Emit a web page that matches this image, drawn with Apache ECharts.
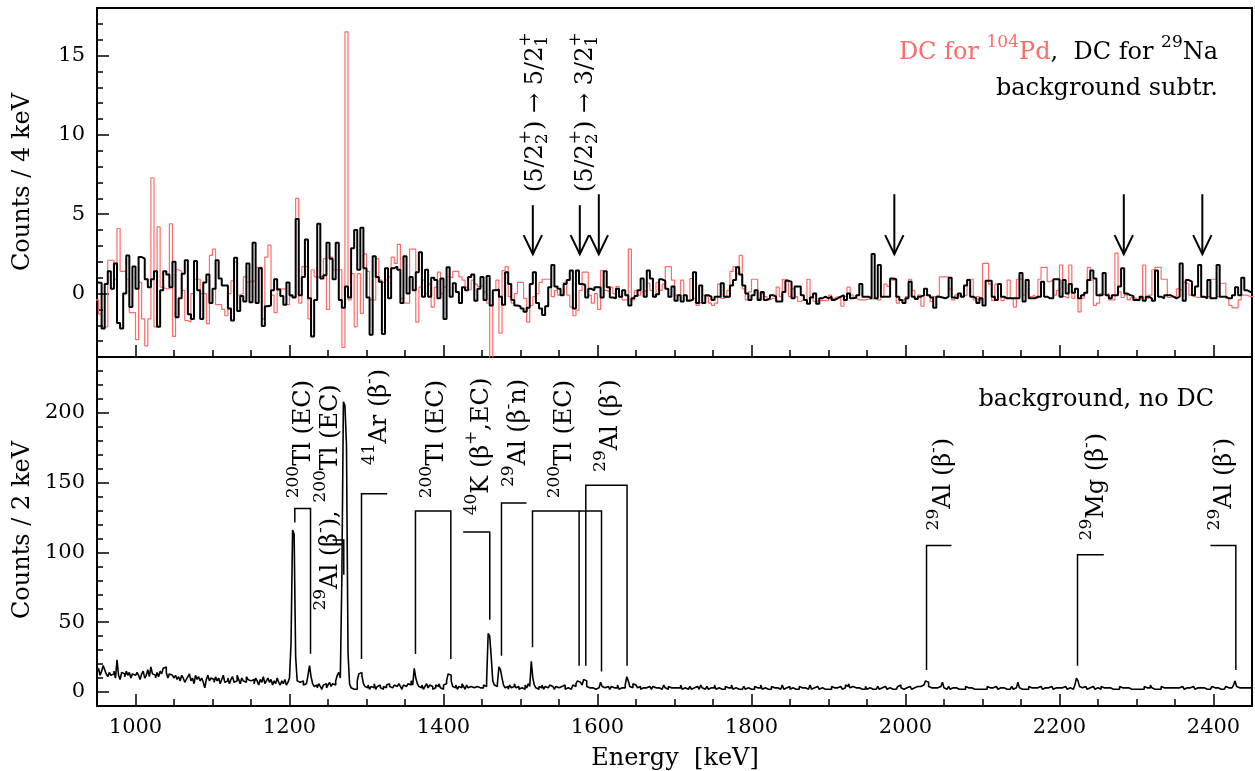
<!DOCTYPE html>
<html><head><meta charset="utf-8">
<script src="https://cdn.jsdelivr.net/npm/echarts@6/dist/echarts.min.js"></script>
<style>html,body{margin:0;padding:0;background:#fff;}#c{width:1255px;height:771px;}</style>
</head><body><div id="c"></div>
<script>
// ---------------- data ----------------
const energyMin = 950, energyMax = 2450;
const topBinStart = 948, topBinWidth = 4;   // DC spectra, 4 keV bins
const botBinStart = 950, botBinWidth = 2;   // background, 2 keV bins

// DC for 29Na, background subtracted (black)
const dc29Na = [0.7,
0.67,-2.2,0.6,1.4,0.3,1.9,-1.85,-2.2,0,2.4, -0.85,1.7,0.3,2.3,2.2,0.9,0.4,0.9,1.4,-2.1,
0.2,1.4,1.2,0.4,2.0,-1.5,-0.3,1.25,2.1,-1.3, -1.6,2.05,0.2,-1.6,0.7,1.2,-0.6,0.3,2.1,0.95,
0.5,0.5,-0.95,-1.7,2.25,-1.1,-0.15,-0.5,1.9,-0.55, 3.2,-0.6,1.6,-2.05,-0.8,-0.75,0.2,0.9,0.25,-0.15,
-0.7,0.7,
-0.1,-0.25,4.7,-0.1,1.05,3.4,-0.3,-2.7,-0.4,4.4, 0.95,1.15,3.2,2.2,0.9,3.2,-0.4,-0.9,0.45,-0.25,
2.85,4.0,1.5,4.15,1.6,-0.25,-2.6,2.35,1.05,0.75, -2.55,1.6,-0.3,1.6,1.7,1.5,-0.6,2.35,0,1.05,
0.2,1.35,2.6,-0.2,1.5,-0.2,1.0,0.85,-0.3,0.95, -1.6,1.65,-0.2,0.65,0.1,-0.6,0.4,0.2,1.05,1.2,
-0.45, 0.3,
1.05,-0.4,1.1,-0.75,0.2,0.25,-0.2,-0.7,1.35,0.6, -0.4,-0.75,-0.8,-0.95,-1.15,-0.9,0.6,1.35,-0.6,-0.95,
-1.35,-0.8,0.4,1.8,0.45,0.3,-0.1,0.6,0.85,1.45, -0.95,1.45,0.6,0.55,-0.25,0.3,0.2,0.4,0.4,-0.25,
1.4,0.4,-0.25,-0.3,0.3,-0.2,0.2,-0.1,-0.75,-0.3, -0.15,0.2,0.95,-0.2,1.45,0.95,-0.2,-0.05,0.9,0.8,
0.3,-0.2,0.45,
-0.45,-0.1,-0.5,-0.1,-0.45,-0.4,1.35,-0.6,0.5,-0.6, -0.1,-0.2,-0.4,-0.2,-0.2,0.65,-0.2,-0.2,0.5,0.85,
1.65,1.2,0.5,0,-0.4,-0.1,0.2,-0.4,0.1,-0.4, -0.3,-0.1,-0.2,-0.5,-0.5,0.1,0.8,0.75,-0.3,0.45,
0.45,-0.1,-0.4,-0.65,-0.25,0,-0.65,-0.3,-0.2,-0.3, -0.2,-0.4,-0.3,-0.2,-0.1,-0.4,0,-0.3,-0.25,-0.1,
0.6,-0.2,
-0.2,-0.3,2.5,-0.3,1.8,-0.2,-0.2,-0.2,0.95,0.9, -0.2,-0.4,-0.6,-0.3,0.75,-0.2,-0.35,-0.2,-0.1,0.3,
-0.1,-0.25,-0.9,-0.2,-0.25,-0.3,-0.2,1.0,-0.25,-0.3, 0,-0.2,0.5,0.85,-0.2,-0.3,-0.6,-0.3,-0.75,0.8,
0.8,-0.2,-0.4,0.6,-0.2,-0.3,-0.3,-0.3,-0.3,-0.3, 1.3,-0.5,0.85,-0.3,-0.3,-0.2,-0.2,0.75,-0.2,-0.3,
-0.3,0.9,
0.9,-0.2,0.85,0,0.6,0.05,0.3,-0.3,-0.1,0.05, 0.85,1.45,0.95,-0.1,-0.1,1.3,-0.1,-0.3,-0.1,-0.1,
0.45,1.6,0,-0.1,-0.15,-0.4,-0.4,-0.2,-0.45,-0.2, -0.3,-0.45,1.45,-0.2,-0.3,-0.1,-0.1,-0.2,-0.3,-0.2,
1.9,-0.45,0.85,0.75,-0.1,0.45,1.8,-0.2,-0.3,0.85, -0.3,-0.3,1.8,-0.2,-0.2,-0.3,-0.3,-0.1,0.4,-0.1,
1.0,0.2,0.1,0.1];

// DC for 104Pd (red)
const dc104Pd = [
-0.4,-1.3,-2.1,-2.1,2.1,2.1,0.9,4.1,1.4,1.4, 0.9,-1.2,-1.2,-2.9,0.7,-1.6,-3.3,-1.6,7.3,-2.1,
4.2,0.4,0.3,0.3,4.4,-2.7,1.5,1.4,0.2,-1.7, -1.8,
0,0.9,0.9,0,0,-1.9,2.4,2.8,-0.7,-0.7, -1.0,-1.4,0,0.8,2.0,-0.1,0,1.05,0.7,0.8,
0.8,1.65,1.65,-1.6,2.3,3.05,-0.1,-1.2,0.3,0.3, 0.3,
-0.7,-0.2,-0.2,6.0,-0.6,1.7,1.7,-1.6,1.5,1.05, 1.05,1.1,2.2,-1.0,2.3,1.5,1.5,1.5,-3.4,16.5,
-0.4,1.25,-2.1,1.25,-1.25,2.5,1.4,-0.4,-0.4,2.2, 0.85,0.7,0.85,1.05,2.3,1.9,3.1,-0.3,-0.6,-0.6,
2.8,2.8,-1.8,0.4,0.85,0,0.6,-0.85,0.4,1.35, 0,0.4,1.05,1.0,1.4,1.4,1.05,0.85,0.4,0.25,
0.85,0.6,0.45,
0.5,0.1,-0.6,-5,0.2,0.85,-2.5,1.45,1.7,-0.2, -0.6,0,0.7,0.7,-0.3,-1.8,-0.75,-0.2,0,0.7,
0.9,0.9,0.9,-0.2,0.2,-0.1,-0.1,0.7,-0.1,-0.85, -1.4,-1.05,0.2,1.35,1.35,-0.1,-0.6,0,-1.0,1.45,
0.2,0.1,0.4,0,0.45,-0.2,-0.4,-0.4,2.8,-0.4, 0.2,-0.1,0.1,0.2,0.65,0.2,-0.1,0.7,0.2,0.6,
1.7,1.7,0.85,
-0.1,-0.1,0.85,-0.1,-0.4,0.95,-0.3,-0.75,-0.6,-0.1, -0.2,-0.6,-0.75,-0.6,0.6,-0.3,-0.25,0.2,1.4,1.7,
1.25,2.4,0.3,-0.4,0.1,0.9,0.9,-0.3,0,-0.2, -0.4,-0.3,-0.3,0.4,-0.2,0.9,0.85,-0.2,0.3,-0.2,
-0.5,-0.4,-0.4,0.9,-0.2,-0.5,-0.45,-0.45,-0.45,-0.45, -0.1,-0.3,-0.2,-0.2,-0.8,-0.2,0.4,-0.1,-0.3,-0.4,
-0.4,-0.4,
-0.35,-0.35,-0.3,-0.4,-0.4,-0.2,0.6,0.45,0.85,0.85, -0.6,-0.4,-0.4,-0.2,0.9,0.2,-0.3,-0.1,-0.8,-0.1,
-0.2,-0.5,-0.2,-0.1,1.05,1.05,1.05,0.3,-0.4,-0.1, -0.2,-0.15,-0.1,0.9,0.9,-0.4,-0.2,-0.4,1.9,1.9,
0.6,-0.45,0.6,0.6,-0.45,-0.3,0.85,-0.3,-0.85,0.9, 0.9,-0.1,0.9,-0.2,-0.1,-0.3,0.9,1.65,1.65,0.75,
0.85,-0.1,
0.2,1.8,-0.2,-0.3,1.8,-0.3,0.3,-1.15,-0.3,0, 1.65,0.85,-0.75,-0.6,0,-0.1,0,-0.4,-0.4,2.55,
0.1,-0.25,-0.1,-0.4,-0.25,-0.3,-0.45,-0.3,1.8,-0.3, -0.1,1.5,1.65,1.65,0.9,0.9,-0.25,-0.2,-0.2,0.3,
0.2,0.7,0.6,-0.1,-0.2,-0.25,-0.25,-0.2,-0.2,-0.2, 0.9,0.9,-0.2,0.65,0.65,-0.3,-0.75,-0.9,-0.9,-0.4,
-0.1,-0.1,-0.2,-0.2];

// background, no DC (2 keV bins from 950 keV)
const bgNoDC = [
14,17,12,15,19,16,13,11,14,12, 13,15,10,23,12,9,14,13,11,15, 12,14,10,13,12,
11,14,12,9,13,15,10,12,16,11, 18,13,12,10,14,11,15,13,17,18, 14,10,13,12,11,
10,12,9,11,8,12,10,7,9,11, 13,8,10,6,12,9,11,8,10,7, 3,9,12,8,10,
9,7,11,8,10,6,9,12,7,8, 10,6,9,11,7,8,12,9,6,10, 8,7,11,9,8,
7,9,6,10,8,5,9,7,11,6, 8,10,7,9,5,8,6,10,7,5, 8,6,9,5,7,
10,35,116,113,25,8,7,6,8,5, 6,7,12,19,11,6,4,5,3,6, 4,2,5,6,3,
5,7,4,6,5,8,12,14,10,82, 208,205,177,28,6,3,2,3,2,8, 13,14,12,6,4,
3,5,2,4,3,6,2,4,5,3, 2,4,3,5,6,4,3,2,5,4, 3,6,4,2,5,
4,3,6,5,8,5,17,10,6,4, 3,5,2,4,6,3,5,4,2,3, 5,4,6,3,2,
5,6,8,13,12,8,4,3,5,2, 4,3,6,4,2,5,3,4,5,3, 2,4,5,3,4,
3,5,4,8,42,40,25,8,5,4, 6,18,16,10,5,3,4,2,5,3, 4,6,3,4,2,
3,4,2,5,3,6,4,22,10,5, 3,2,4,3,5,2,4,3,2,5, 4,3,2,4,3,
2,4,3,5,2,3,4,2,3,5, 4,6,8,7,8,5,9,8,4,3, 2,3,4,2,3,
3,4,7,4,3,2,4,3,2,4, 3,2,3,5,2,3,4,3,5,11, 8,4,3,6,5,
6,3,4,2,3,4,3,2,4,3, 2,4,3,2,3,4,2,3,5,3, 2,4,3,2,3,
4,3,2,3,5,2,3,4,2,3, 4,2,3,2,4,3,2,5,3,2, 3,4,2,3,2,
3,5,2,3,4,2,3,2,4,3, 2,3,5,2,3,4,2,3,2,3, 4,2,3,4,2,
3,2,4,3,2,3,5,2,3,4, 2,3,2,4,3,2,3,4,2,3, 5,2,3,2,4,
2,3,4,2,3,2,4,3,2,3, 4,2,3,5,2,3,2,4,3,2, 3,4,2,3,2,
3,2,4,3,2,3,2,4,3,2, 3,5,4,6,3,4,5,3,2,3, 4,2,3,2,4,
2,3,4,2,3,2,3,4,2,3, 2,4,3,2,3,4,2,3,2,3, 4,5,3,2,3,
3,2,4,3,2,3,2,4,3,4, 3,5,4,8,7,4,3,2,3,2, 3,2,4,3,7,
3,2,3,4,2,3,2,3,4,2, 3,2,3,2,4,3,2,3,4,2, 3,2,3,2,3,
2,3,2,4,3,2,3,2,4,3, 2,3,2,3,4,2,3,2,3,4, 2,3,4,7,3,
2,3,2,3,2,4,3,2,3,2, 3,2,4,3,2,3,2,3,2,4, 3,2,3,2,3,
2,3,2,4,3,2,3,4,2,3, 5,10,8,4,3,2,4,3,2,3, 2,4,3,2,3,
3,2,4,3,2,3,2,3,4,2, 3,2,3,2,4,3,2,3,2,3, 4,2,3,2,3,
2,3,2,3,2,4,3,2,3,5, 3,2,3,2,3,2,4,3,2,3, 2,3,2,3,2,
3,2,3,2,4,3,2,3,2,3, 2,4,3,2,3,2,3,2,3,4, 2,3,2,3,4,
3,2,3,4,2,3,2,3,4,3, 2,3,4,5,8,4,3,2,3,2, 3,4,3,2,3];

// tick values
const xMajorTicks = [1000,1200,1400,1600,1800,2000,2200,2400];
const xMinorTicks = []; for (let e = 950; e <= 2450; e += 50) xMinorTicks.push(e);
const topYLabels = [0,5,10,15];
const topYMinor = []; for (let v = -4; v <= 18; v += 1) topYMinor.push(v);
const botYLabels = [0,50,100,150,200];
const botYMinor = []; for (let v = -10; v <= 240; v += 10) botYMinor.push(v);

// annotation definitions (energy keV, counts)
const arrowMarks = [[1516,5.57],[1577,5.57],[1601.7,6.26],[1985.5,6.26],[2283.5,6.26],[2385.5,6.26]];
const arrowTip = 2.48;
const brackets = [
 [[1206.9,121.5],[1206.9,131.4],[1227.3,131.4],[1227.3,27.5]],
 [[1256,109],[1270.5,109],[1270.5,84]],
 [[1293.5,23.7],[1293.5,142.1],[1326.8,142.1]],
 [[1363.6,27.3],[1363.6,129.6],[1409.5,129.6],[1409.5,23.7]],
 [[1425.5,114.6],[1460.1,114.6],[1460.1,51.7]],
 [[1475.3,26],[1475.3,135.4],[1507.8,135.4]],
 [[1515.6,32],[1515.6,129.6],[1605.2,129.6],[1605.2,14.8]],
 [[1576.1,129.6],[1576.1,18.9]],
 [[1584.8,18.9],[1584.8,148.1],[1638.4,148.1],[1638.4,18.9]],
 [[2027.3,15.8],[2027.3,105],[2059.7,105]],
 [[2223.4,18.9],[2223.4,98.3],[2257.5,98.3]],
 [[2396,105],[2429,105],[2429,15.8]]
];
const TL = [['sup','200'],['n','Tl (EC)']];
const AL = [['sup','29'],['n','Al (β'],['sup','-'],['n',')']];
const peakLabels = [
 [1218.6,138.8,TL],
 [1253.6,58.4,[['sup','29'],['n','Al (β'],['sup','-'],['n','), '],['sup','200'],['n','Tl (EC)']]],
 [1317.3,162.5,[['sup','41'],['n','Ar (β'],['sup','-'],['n',')']]],
 [1391.3,138.8,TL],
 [1449.7,126.6,[['sup','40'],['n','K (β'],['sup','+'],['n',',EC)']]],
 [1497.8,146.9,[['sup','29'],['n','Al (β'],['sup','-'],['n','n)']]],
 [1557.5,138.8,TL],
 [1616.6,157.7,AL],
 [2049.7,115.8,AL],
 [2248.4,108.6,[['sup','29'],['n','Mg (β'],['sup','-'],['n',')']]],
 [2414.7,115.8,AL]
];
const transitionLabels = [
 [1519.2,6.39,[['n','(5/2'],['ss','+','2'],['n',') → 5/2'],['ss','+','1']]],
 [1584.8,6.39,[['n','(5/2'],['ss','+','2'],['n',') → 3/2'],['ss','+','1']]]
];

// ---------------- chart ----------------
const FONT = '"DejaVu Serif", serif';
const RED = '#ff6a6a';
function hist(start, width, vals) {
  const pts = vals.map((v, i) => [start + i * width, v]);
  pts.push([start + vals.length * width, vals[vals.length - 1]]);
  return pts;
}
function xAx(grid, ticks, len, labels) {
  return {type:'value', gridIndex:grid, min:energyMin, max:energyMax, position:'bottom',
    axisLine:{show:false, onZero:false}, splitLine:{show:false},
    axisTick:{show:true, inside:true, length:len, customValues:ticks, lineStyle:{color:'#000', width:1.5}},
    axisLabel: labels ? {show:true, customValues:xMajorTicks, formatter:v => String(v), fontFamily:FONT, fontSize:21, color:'#000', margin:11} : {show:false}};
}
function yAx(grid, min, max, ticks, len, labels) {
  return {type:'value', gridIndex:grid, min:min, max:max, position:'left',
    axisLine:{show:false, onZero:false}, splitLine:{show:false},
    axisTick:{show:true, inside:true, length:len, customValues:ticks, lineStyle:{color:'#000', width:1.5}},
    axisLabel: labels ? {show:true, customValues:labels, formatter:v => String(v), fontFamily:FONT, fontSize:21, color:'#000', margin:12} : {show:false}};
}
const chart = echarts.init(document.getElementById('c'), null, {renderer:'canvas'});
const option = {
  animation:false,
  backgroundColor:'#fff',
  grid:[
    {left:97, top:8, width:1155, height:349, show:true, borderColor:'#000', borderWidth:2},
    {left:97, top:357, width:1155, height:349, show:true, borderColor:'#000', borderWidth:2}
  ],
  xAxis:[xAx(0,xMajorTicks,12,false), xAx(0,xMinorTicks,7,false), xAx(1,xMajorTicks,12,true), xAx(1,xMinorTicks,7,false)],
  yAxis:[yAx(0,-4,18,topYLabels,12,topYLabels), yAx(0,-4,18,topYMinor,6,null),
         yAx(1,-10,240,botYLabels,12,botYLabels), yAx(1,-10,240,botYMinor,6,null)],
  series:[
    {type:'line', xAxisIndex:0, yAxisIndex:0, data:hist(topBinStart, topBinWidth, dc104Pd), step:'end',
     showSymbol:false, symbol:'none', lineStyle:{color:RED, width:1.2}, z:2, silent:true},
    {type:'line', xAxisIndex:0, yAxisIndex:0, data:hist(topBinStart, topBinWidth, dc29Na), step:'end',
     showSymbol:false, symbol:'none', lineStyle:{color:'#000', width:2}, z:3, silent:true},
    {type:'line', xAxisIndex:2, yAxisIndex:2, data:hist(botBinStart, botBinWidth, bgNoDC), step:'end',
     showSymbol:false, symbol:'none', lineStyle:{color:'#000', width:1.6}, z:3, silent:true},
    {type:'lines', coordinateSystem:'cartesian2d', xAxisIndex:2, yAxisIndex:2, polyline:true, silent:true,
     data:brackets.map(c => ({coords:c})), lineStyle:{color:'#000', width:1.5, opacity:1, curveness:0}, z:5},
    {type:'lines', coordinateSystem:'cartesian2d', xAxisIndex:0, yAxisIndex:0, polyline:true, silent:true,
     data:[].concat(...arrowMarks.map(a => [
       {coords:[[a[0],a[1]],[a[0],arrowTip]]},
       {coords:[[a[0]-11.9,arrowTip+1.2],[a[0],arrowTip],[a[0]+11.9,arrowTip+1.2]]}
     ])), lineStyle:{color:'#000', width:2, opacity:1, curveness:0}, z:6}
  ]
};
chart.setOption(option);

// ---------------- text annotations ----------------
const mctx = document.createElement('canvas').getContext('2d');
function tw(t, fs) { mctx.font = fs + 'px "DejaVu Serif"'; return mctx.measureText(t).width; }
function txt(t, x, y, fs, color) {
  return {type:'text', x:x, y:y, style:{text:t, font:fs+'px "DejaVu Serif"', fill:color||'#000', textAlign:'left', textVerticalAlign:'middle'}};
}
function run(parts, F, color) {
  const sF = Math.round(F * 0.72);
  let x = 0; const ch = [];
  for (const p of parts) {
    const c = p[3] || color;
    if (p[0] === 'n') { ch.push(txt(p[1], x, 0, F, p[2] || color)); x += tw(p[1], F); }
    else if (p[0] === 'sup') { ch.push(txt(p[1], x, -0.42*F, sF, p[2] || color)); x += tw(p[1], sF); }
    else if (p[0] === 'ss') { ch.push(txt(p[1], x, -0.42*F, sF, c)); ch.push(txt(p[2], x, 0.3*F, sF, c)); x += Math.max(tw(p[1], sF), tw(p[2], sF)); }
  }
  return {children:ch, width:x};
}
const g = [];
const F = 24;
function vertLabel(grid, E, v, parts) {
  const p = chart.convertToPixel({xAxisIndex: grid === 0 ? 0 : 2, yAxisIndex: grid === 0 ? 0 : 2}, [E, v]);
  const r = run(parts, F, '#000');
  g.push({type:'group', x:p[0], y:p[1], rotation:Math.PI/2, children:r.children, silent:true});
}
peakLabels.forEach(l => vertLabel(1, l[0], l[1], l[2]));
transitionLabels.forEach(l => vertLabel(0, l[0], l[1], l[2]));

function horizRight(rightX, y, parts) {
  const r = run(parts, F, '#000');
  g.push({type:'group', x:rightX - r.width, y:y, children:r.children, silent:true});
}
horizRight(1218, 52.5, [['n','DC for ',RED],['sup','104',RED],['n','Pd',RED],['n',',  DC for '],['sup','29'],['n','Na']]);
horizRight(1218, 89, [['n','background subtr.']]);
horizRight(1214, 400, [['n','background, no DC']]);

g.push({type:'text', x:22.5, y:182, rotation:Math.PI/2, silent:true,
  style:{text:'Counts / 4 keV', font:'24px "DejaVu Serif"', fill:'#000', textAlign:'center', textVerticalAlign:'middle'}});
g.push({type:'text', x:22.5, y:530, rotation:Math.PI/2, silent:true,
  style:{text:'Counts / 2 keV', font:'24px "DejaVu Serif"', fill:'#000', textAlign:'center', textVerticalAlign:'middle'}});
g.push({type:'text', x:675, y:759, silent:true,
  style:{text:'Energy  [keV]', font:'24px "DejaVu Serif"', fill:'#000', textAlign:'center', textVerticalAlign:'middle'}});

chart.setOption({graphic:{elements:g}});
</script>
</body></html>
